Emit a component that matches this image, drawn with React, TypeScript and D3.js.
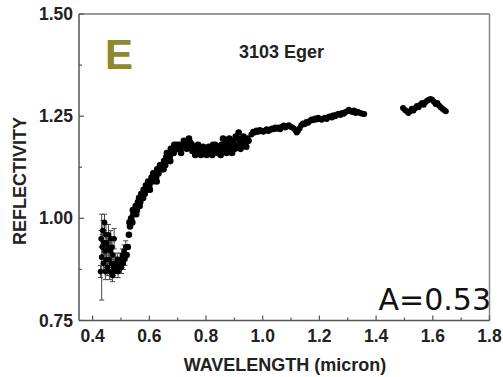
import React from "react";
import * as d3 from "d3";

// Wavelength (micron), reflectivity, error
const wl1 = [0.428,0.430,0.432,0.434,0.436,0.438,0.440,0.442,0.444,0.445,0.447,0.449,0.450,0.452,0.454,0.456,0.458,0.460,0.462,0.464,0.466,0.468,0.470,0.472,0.474,0.476,0.478,0.481,0.484,0.487,0.490,0.493,0.496,0.499,0.502,0.505,0.508,0.511,0.514,0.517];
const rf1 = [0.87,0.95,0.905,0.93,0.97,0.89,0.94,0.99,0.92,0.87,0.96,0.90,0.94,0.88,0.93,0.96,0.90,0.87,0.92,0.95,0.89,0.93,0.86,0.91,0.88,0.95,0.87,0.89,0.88,0.90,0.87,0.89,0.88,0.90,0.88,0.91,0.89,0.92,0.90,0.93];
const er1 = [0.015,0.02,0.105,0.03,0.025,0.02,0.03,0.02,0.025,0.02,0.025,0.02,0.02,0.02,0.02,0.025,0.02,0.02,0.02,0.02,0.02,0.02,0.015,0.02,0.02,0.025,0.015,0.015,0.015,0.015,0.015,0.015,0.015,0.015,0.015,0.015,0.015,0.015,0.015,0.015];

const wl2 = [0.520,0.524,0.528,0.532,0.536,0.540,0.544,0.548,0.552,0.556,0.560,0.564,0.568,0.572,0.576,0.580,0.584,0.588,0.592,0.596,0.600,0.604,0.608,0.612,0.616,0.620,0.624,0.628,0.632,0.636,0.640,0.644,0.648,0.652,0.656,0.660,0.664,0.668,0.672,0.676,0.680,0.684,0.688,0.692,0.696];
const rf2 = [0.91,0.93,0.96,0.98,1.00,0.99,1.01,1.02,1.03,1.02,1.04,1.05,1.04,1.06,1.06,1.07,1.06,1.08,1.07,1.09,1.08,1.09,1.10,1.09,1.10,1.11,1.10,1.12,1.11,1.12,1.13,1.12,1.13,1.14,1.13,1.15,1.14,1.16,1.15,1.17,1.16,1.17,1.18,1.17,1.18];
const wl2b = [0.530,0.542,0.554,0.566,0.578,0.590,0.602,0.614,0.626,0.638,0.650,0.662,0.674,0.686,0.698];
const rf2b = [0.99,1.02,1.01,1.03,1.05,1.08,1.07,1.11,1.09,1.13,1.12,1.16,1.14,1.16,1.17];

const wl3 = [0.700,0.705,0.710,0.715,0.720,0.725,0.730,0.735,0.740,0.745,0.750,0.755,0.760,0.765,0.770,0.775,0.780,0.785,0.790,0.795,0.800,0.805,0.810,0.815,0.820,0.825,0.830,0.835,0.840,0.845,0.850,0.855,0.860,0.865,0.870,0.875,0.880,0.885,0.890,0.895,0.900,0.905,0.910,0.915,0.920,0.925,0.930,0.935,0.940,0.945];
const rf3 = [1.17,1.18,1.17,1.18,1.175,1.185,1.18,1.19,1.195,1.185,1.18,1.17,1.175,1.165,1.17,1.16,1.17,1.165,1.175,1.16,1.17,1.165,1.175,1.16,1.17,1.18,1.165,1.17,1.16,1.175,1.165,1.18,1.195,1.175,1.17,1.185,1.175,1.18,1.17,1.19,1.18,1.20,1.175,1.21,1.185,1.19,1.18,1.185,1.19,1.195];
const wl3b = [0.712,0.722,0.732,0.742,0.752,0.762,0.772,0.782,0.792,0.802,0.812,0.822,0.832,0.842,0.852,0.862,0.872,0.882,0.892,0.902,0.912,0.922,0.932,0.942,0.950];
const rf3b = [1.16,1.19,1.17,1.18,1.165,1.155,1.18,1.155,1.165,1.155,1.165,1.155,1.18,1.175,1.155,1.17,1.16,1.195,1.16,1.17,1.195,1.17,1.2,1.175,1.19];

const wl4 = [0.960,0.966,0.972,0.978,0.984,0.990,0.996,1.002,1.008,1.014,1.020,1.026,1.032,1.038,1.044,1.050,1.056,1.062,1.068,1.074,1.080,1.086,1.092,1.098,1.104,1.110,1.116,1.120,1.124,1.130,1.136,1.142,1.148,1.154,1.160,1.166,1.172,1.178,1.184,1.190,1.196,1.202,1.208,1.214,1.220,1.226,1.232,1.238,1.244,1.250,1.256,1.262,1.268,1.274,1.280,1.286,1.292,1.298,1.304,1.310,1.316,1.322,1.328,1.334,1.340,1.346,1.352,1.358];
const rf4 = [1.205,1.212,1.21,1.215,1.212,1.216,1.214,1.212,1.215,1.218,1.214,1.216,1.22,1.218,1.222,1.219,1.222,1.218,1.224,1.227,1.222,1.226,1.228,1.224,1.222,1.22,1.215,1.21,1.214,1.22,1.228,1.232,1.23,1.236,1.234,1.238,1.242,1.24,1.244,1.242,1.246,1.243,1.241,1.244,1.246,1.243,1.248,1.25,1.247,1.252,1.25,1.254,1.256,1.253,1.258,1.256,1.26,1.262,1.266,1.262,1.26,1.264,1.258,1.261,1.259,1.257,1.256,1.255];

const wl5 = [1.495,1.502,1.508,1.514,1.520,1.526,1.532,1.538,1.544,1.550,1.556,1.562,1.568,1.574,1.580,1.586,1.592,1.598,1.604,1.610,1.616,1.622,1.628,1.634,1.640,1.646];
const rf5 = [1.27,1.265,1.262,1.258,1.262,1.268,1.264,1.27,1.275,1.272,1.278,1.282,1.278,1.284,1.288,1.29,1.292,1.29,1.285,1.28,1.282,1.276,1.272,1.268,1.265,1.262];

const xTicks = [0.4, 0.6, 0.8, 1.0, 1.2, 1.4, 1.6, 1.8];
const xMinor = [0.5, 0.7, 0.9, 1.1, 1.3, 1.5, 1.7];
const yTicks = [0.75, 1.0, 1.25, 1.5];
const yMinor = [0.875, 1.125, 1.375];

export default function App() {
  const W = 503, H = 377;
  const L = 79, R = 489.5, T = 14, B = 320.5;
  const x = d3.scaleLinear().domain([0.352, 1.8]).range([L, R]);
  const y = d3.scaleLinear().domain([0.75, 1.5]).range([B, T]);

  const withErr = wl1.map((w, i) => ({ w, r: rf1[i], e: er1[i] }));
  const dense = [
    ...wl2.map((w, i) => ({ w, r: rf2[i] })),
    ...wl2b.map((w, i) => ({ w, r: rf2b[i] })),
    ...wl3.map((w, i) => ({ w, r: rf3[i] })),
    ...wl3b.map((w, i) => ({ w, r: rf3b[i] })),
  ];
  const thin = [
    ...wl4.map((w, i) => ({ w, r: rf4[i] })),
    ...wl5.map((w, i) => ({ w, r: rf5[i] })),
  ];
  const font = "'Liberation Sans', Arial, sans-serif";
  const txt = "#222";

  return (
    <svg width={W} height={H} style={{ position: "fixed", left: 0, top: 0, display: "block", background: "#fff" }}>
      <rect x={0} y={0} width={W} height={H} fill="#fff" />
      <line x1={L} x2={R} y1={T} y2={T} stroke="#777" strokeWidth={1.5} />
      <line x1={R} x2={R} y1={T} y2={B} stroke="#888" strokeWidth={1.5} />
      <line x1={L} x2={L} y1={T} y2={B} stroke="#555" strokeWidth={1.5} />
      <line x1={L} x2={R} y1={B} y2={B} stroke="#555" strokeWidth={1.5} />
      {xTicks.map((t) => (
        <g key={"xt" + t}>
          <line x1={x(t)} x2={x(t)} y1={B} y2={B - 5} stroke="#555" strokeWidth={1.2} />
          <text x={x(t)} y={342} textAnchor="middle" fontFamily={font} fontWeight="bold" fontSize={17.5} fill={txt}>
            {t.toFixed(1)}
          </text>
        </g>
      ))}
      {xMinor.map((t) => (
        <line key={"xm" + t} x1={x(t)} x2={x(t)} y1={B} y2={B - 3} stroke="#555" strokeWidth={1.2} />
      ))}
      {yTicks.map((t) => (
        <g key={"yt" + t}>
          <line x1={L} x2={L + 5} y1={y(t)} y2={y(t)} stroke="#555" strokeWidth={1.2} />
          <text x={73} y={y(t) + 6} textAnchor="end" fontFamily={font} fontWeight="bold" fontSize={17.5} fill={txt}>
            {t.toFixed(2)}
          </text>
        </g>
      ))}
      {yMinor.map((t) => (
        <line key={"ym" + t} x1={L} x2={L + 3} y1={y(t)} y2={y(t)} stroke="#555" strokeWidth={1.2} />
      ))}
      <text x={285} y={371} textAnchor="middle" fontFamily={font} fontWeight="bold" fontSize={18} fill={txt}>
        WAVELENGTH (micron)
      </text>
      <text transform={`translate(26,181) rotate(-90)`} textAnchor="middle" fontFamily={font} fontWeight="bold" fontSize={18} fill={txt}>
        REFLECTIVITY
      </text>
      {withErr.map((d, i) => (
        <g key={"e" + i} stroke="#444" strokeWidth={1}>
          <line x1={x(d.w)} x2={x(d.w)} y1={y(d.r - d.e)} y2={y(d.r + d.e)} />
          <line x1={x(d.w) - 2.5} x2={x(d.w) + 2.5} y1={y(d.r - d.e)} y2={y(d.r - d.e)} />
          <line x1={x(d.w) - 2.5} x2={x(d.w) + 2.5} y1={y(d.r + d.e)} y2={y(d.r + d.e)} />
        </g>
      ))}
      {withErr.map((d, i) => (
        <circle key={"p" + i} cx={x(d.w)} cy={y(d.r)} r={2.8} fill="#000" />
      ))}
      {dense.map((d, i) => (
        <circle key={"q" + i} cx={x(d.w)} cy={y(d.r)} r={3.3} fill="#000" />
      ))}
      {thin.map((d, i) => (
        <circle key={"s" + i} cx={x(d.w)} cy={y(d.r)} r={3} fill="#000" />
      ))}
      <text x={105} y={69} fontFamily={font} fontWeight="bold" fontSize={42} fill="#8c8a2a">
        E
      </text>
      <text x={239} y={58} fontFamily={font} fontWeight="bold" fontSize={18} fill={txt}>
        3103 Eger
      </text>
      <text x={491} y={310} textAnchor="end" fontFamily="'DejaVu Sans', sans-serif" fontSize={30} fill="#111">
        A=0.53
      </text>
    </svg>
  );
}
